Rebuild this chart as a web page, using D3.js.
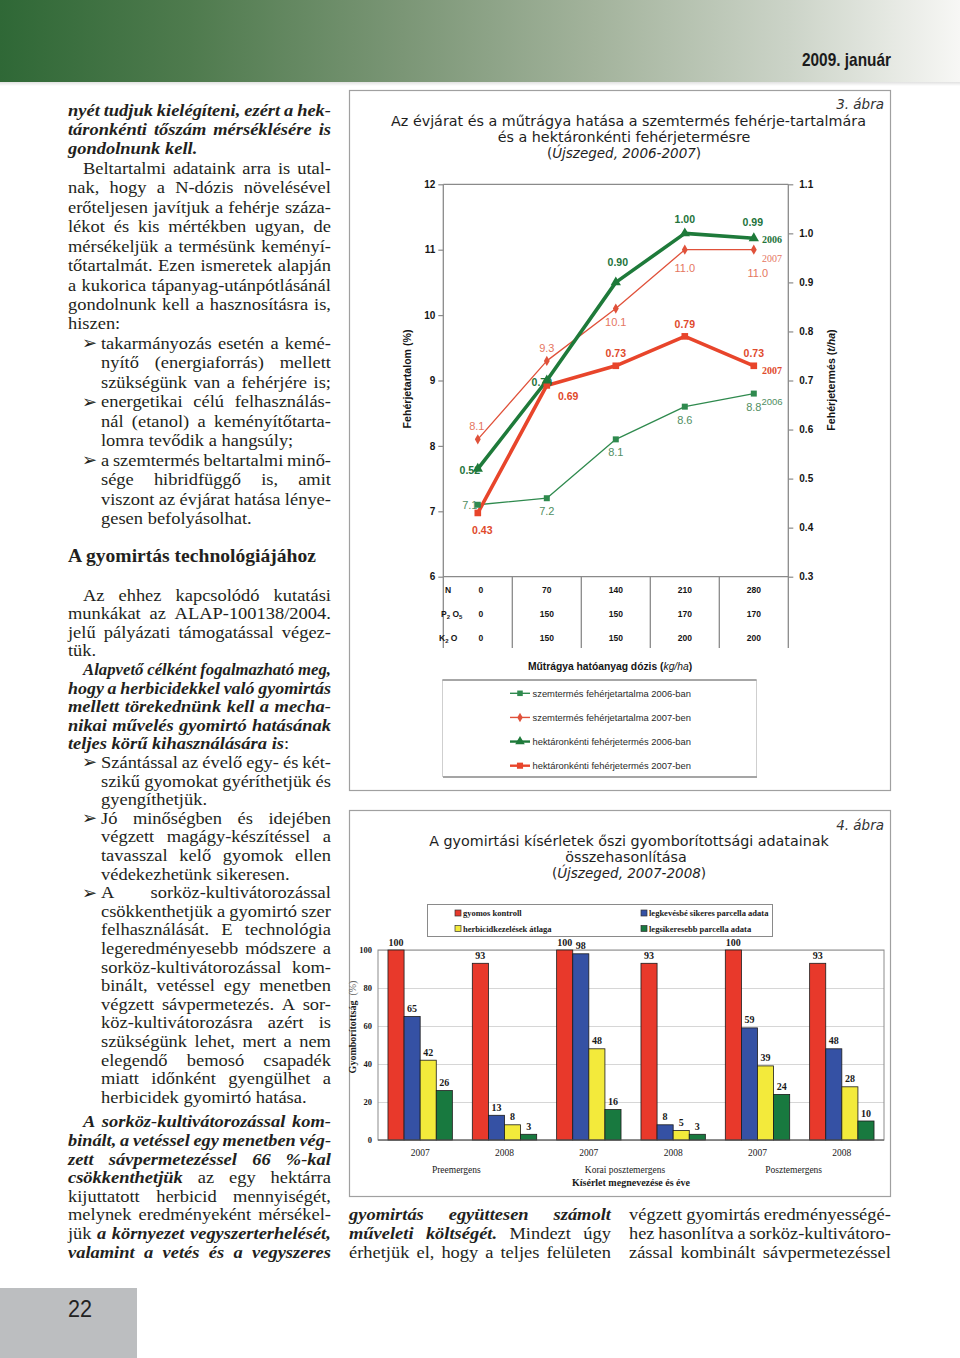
<!DOCTYPE html>
<html><head><meta charset="utf-8">
<script src="https://cdn.jsdelivr.net/npm/d3@7/dist/d3.min.js"></script>
<style>html,body{margin:0;padding:0;background:#fff}svg{display:block}</style>
</head><body>
<svg id="page" width="960" height="1358" xmlns="http://www.w3.org/2000/svg"></svg>
<script>
// ================= DATA =================
// 3. ábra
const doseCategories = ["0","70","140","210","280"];
const doseN    = ["0","70","140","210","280"];
const doseP2O5 = ["0","150","150","170","170"];
const doseK2O  = ["0","150","150","200","200"];
const protein2006 = [7.1, 7.2, 8.1, 8.6, 8.8];
const protein2007 = [8.1, 9.3, 10.1, 11.0, 11.0];
const proteinYield2006 = [0.52, 0.70, 0.90, 1.00, 0.99];
const proteinYield2007 = [0.43, 0.69, 0.73, 0.79, 0.73];
const proteinTicks = [6, 7, 8, 9, 10, 11, 12];
const yieldTicks = [0.3, 0.4, 0.5, 0.6, 0.7, 0.8, 0.9, 1.0, 1.1];
const fig3Legend = ["szemtermés fehérjetartalma 2006-ban", "szemtermés fehérjetartalma 2007-ben",
                    "hektáronkénti fehérjetermés 2006-ban", "hektáronkénti fehérjetermés 2007-ben"];
// 4. ábra
const trialNames = ["Preemergens", "Korai posztemergens", "Posztemergens"];
const trialYears = ["2007", "2008", "2007", "2008", "2007", "2008"];
const weedyControl    = [100, 93, 100, 93, 100, 93];
const leastSuccessful = [65, 13, 98, 8, 59, 48];
const herbicideMean   = [42, 8, 48, 5, 39, 28];
const mostSuccessful  = [26, 3, 16, 3, 24, 10];
const coverTicks = [0, 20, 40, 60, 80, 100];
const fig4Legend = ["gyomos kontroll", "legkevésbé sikeres parcella adata", "herbicidkezelések átlaga", "legsikeresebb parcella adata"];

// ================= PAGE TEXT =================
const colA = [
 "*nyét tudjuk kielégíteni, ezért a hek-*",
 "*táronkénti tőszám mérséklésére is*",
 "*gondolnunk kell.*|",
 "^Beltartalmi adataink arra is utal-",
 "nak, hogy a N-dózis növelésével",
 "erőteljesen javítjuk a fehérje száza-",
 "lékot és kis mértékben ugyan, de",
 "mérsékeljük a termésünk keményí-",
 "tőtartalmát. Ezen ismeretek alapján",
 "a kukorica tápanyag-utánpótlásánál",
 "gondolnunk kell a hasznosításra is,",
 "hiszen:|",
 ">takarmányozás esetén a kemé-",
 "~nyítő (energiaforrás) mellett",
 "~szükségünk van a fehérjére is;",
 ">energetikai célú felhasználás-",
 "~nál (etanol) a keményítőtarta-",
 "~lomra tevődik a hangsúly;|",
 ">a szemtermés beltartalmi minő-",
 "~sége hibridfüggő is, amit",
 "~viszont az évjárat hatása lénye-",
 "~gesen befolyásolhat.|"
];
const colB = [
 "^Az ehhez kapcsolódó kutatási",
 "munkákat az ALAP-100138/2004.",
 "jelű pályázati támogatással végez-",
 "tük.|",
 "^*Alapvető célként fogalmazható meg,*",
 "*hogy a herbicidekkel való gyomirtás*",
 "*mellett törekednünk kell a mecha-*",
 "*nikai művelés gyomirtó hatásának*",
 "*teljes körű kihasználására is*:|",
 ">Szántással az évelő egy- és két-",
 "~szikű gyomokat gyéríthetjük és",
 "~gyengíthetjük.|",
 ">Jó minőségben és idejében",
 "~végzett magágy-készítéssel a",
 "~tavasszal kelő gyomok ellen",
 "~védekezhetünk sikeresen.|",
 ">A sorköz-kultivátorozással",
 "~csökkenthetjük a gyomirtó szer",
 "~felhasználását. E technológia",
 "~legeredményesebb módszere a",
 "~sorköz-kultivátorozással kom-",
 "~binált, vetéssel egy menetben",
 "~végzett sávpermetezés. A sor-",
 "~köz-kultivátorozásra azért is",
 "~szükségünk lehet, mert a nem",
 "~elegendő bemosó csapadék",
 "~miatt időnként gyengülhet a",
 "~herbicidek gyomirtó hatása.|",
 "#gap",
 "^*A sorköz-kultivátorozással kom-*",
 "*binált, a vetéssel egy menetben vég-*",
 "*zett sávpermetezéssel 66 %-kal*",
 "*csökkenthetjük* az egy hektárra",
 "kijuttatott herbicid mennyiségét,",
 "melynek eredményeként mérsékel-",
 "jük *a környezet vegyszerterhelését,*",
 "*valamint a vetés és a vegyszeres*"
];
const colC = [
 "*gyomirtás együttesen számolt*",
 "*műveleti költségét.* Mindezt úgy",
 "érhetjük el, hogy a teljes felületen"
];
const colD = [
 "végzett gyomirtás eredményességé-",
 "hez hasonlítva a sorköz-kultivátoro-",
 "zással kombinált sávpermetezéssel"
];

// ================= DRAWING =================
const svg = d3.select('#page');
const SERIF = "'Liberation Serif','Times New Roman',Times,serif";
const SANS = "'Liberation Sans',Arial,Helvetica,sans-serif";
const NARROW = "'Liberation Sans Narrow','Arial Narrow','Liberation Sans',sans-serif";
const VERD = "'DejaVu Sans',Verdana,sans-serif";
const INK = '#231f20';
const FS = 17.5;
const STRETCH = 1.055;

// ---- header ----
const defs = svg.append('defs');
const hg = defs.append('linearGradient').attr('id','hdr').attr('x1',0).attr('x2',1).attr('y1',0).attr('y2',0);
[[0,'#2f6836'],[0.2,'#4f7b4e'],[0.42,'#7b9676'],[0.62,'#a3b39c'],[0.82,'#cbd3c7'],[0.93,'#e6e9e3'],[1,'#f7f7f5']]
  .forEach(([o,c]) => hg.append('stop').attr('offset',o).attr('stop-color',c));
svg.append('rect').attr('x',0).attr('y',0).attr('width',960).attr('height',82).attr('fill','url(#hdr)');
const sg = defs.append('linearGradient').attr('id','shd').attr('x1',0).attr('x2',0).attr('y1',0).attr('y2',1);
sg.append('stop').attr('offset',0).attr('stop-color','#000').attr('stop-opacity',0.12);
sg.append('stop').attr('offset',1).attr('stop-color','#000').attr('stop-opacity',0);
svg.append('rect').attr('x',0).attr('y',82).attr('width',960).attr('height',4).attr('fill','url(#shd)');
svg.append('text').attr('x',802).attr('y',66)
  .attr('font-family',NARROW).attr('font-weight','bold').attr('font-size',19).attr('fill','#1b1b1b')
  .attr('textLength',89).attr('lengthAdjust','spacingAndGlyphs')
  .text('2009. január');

// ---- page number ----
svg.append('rect').attr('x',0).attr('y',1288).attr('width',137).attr('height',70).attr('fill','#bcbec0');
svg.append('text').attr('x',68).attr('y',1317).attr('font-family',NARROW).attr('font-size',23).attr('fill','#222')
  .attr('textLength',24).attr('lengthAdjust','spacingAndGlyphs').text('22');

// ---- body text ----
function parseWords(str){
  let bi=false; const words=[]; let cur=[]; let buf='';
  const flush=()=>{ if(buf){cur.push({t:buf,bi}); buf='';} };
  for(const ch of str){
    if(ch==='*'){flush(); bi=!bi; continue;}
    if(ch===' '){flush(); if(cur.length){words.push(cur); cur=[];} continue;}
    buf+=ch;
  }
  flush(); if(cur.length) words.push(cur);
  return words;
}
function setLine(g, str, x0, x1, y, justify, fs){
  const words = parseWords(str);
  const nodes = words.map(w=>{
    const t = g.append('text').attr('x',0).attr('y',0).attr('font-family',SERIF).attr('font-size',fs).attr('fill',INK);
    w.forEach(s=>{
      const sp = t.append('tspan').text(s.t);
      if(s.bi){ sp.attr('font-weight','bold').attr('font-style','italic'); }
    });
    return t;
  });
  const wid = nodes.map(n=>n.node().getComputedTextLength());
  const tot = d3.sum(wid);
  const n = nodes.length, sp = fs*0.25, avail = x1-x0;
  let sc = STRETCH, gap = sp*sc;
  const minGap = sp*0.85;
  if(justify && n>1) gap = (avail - tot*sc)/(n-1);
  const need = tot*sc + gap*(n-1);
  if((n>1 && gap < minGap) || need > avail){
    gap = n>1 ? Math.max(minGap, Math.min(gap, sp)) : 0;
    if(justify && n>1) gap = minGap;
    sc = (avail - gap*(n-1))/tot;
    if(!justify) sc = Math.min(sc, STRETCH);
  }
  let x = x0;
  nodes.forEach((nd,i)=>{ nd.attr('transform',`translate(${x.toFixed(2)},${y.toFixed(2)}) scale(${sc.toFixed(4)},1)`); x += wid[i]*sc + gap; });
}
function setColumn(lines, x0, x1, y0, step, gapH){
  const g = svg.append('g');
  let y = y0;
  lines.forEach(raw=>{
    if(raw==='#gap'){ y += gapH; return; }
    let s = raw, lx = x0, justify = true;
    if(s.endsWith('|')){ justify=false; s=s.slice(0,-1); }
    if(s[0]==='^'){ lx = x0+15; s=s.slice(1); }
    else if(s[0]==='>'){
      g.append('text').attr('x',x0+14).attr('y',y+0.5).attr('font-family',VERD).attr('font-size',18).attr('fill',INK).text('➢');
      lx = x0+33; s=s.slice(1);
    }
    else if(s[0]==='~'){ lx = x0+33; s=s.slice(1); }
    setLine(g, s, lx, x1, y, justify, FS);
    y += step;
  });
}
setColumn(colA, 68, 331, 115.5, 19.45, 0);
svg.append('text').attr('x',68).attr('y',562).attr('font-family',SERIF).attr('font-weight','bold')
  .attr('font-size',19).attr('fill',INK).attr('textLength',248).attr('lengthAdjust','spacingAndGlyphs')
  .text('A gyomirtás technológiájához');
setColumn(colB, 68, 331, 600.5, 18.6, 6);
setColumn(colC, 349, 611, 1219.5, 19, 0);
setColumn(colD, 629, 891, 1219.5, 19, 0);

// ================= 3. ÁBRA =================
const f3 = svg.append('g');
f3.append('rect').attr('x',349.5).attr('y',90.5).attr('width',541).attr('height',700)
  .attr('fill','none').attr('stroke','#a0a0a0').attr('stroke-width',1.2);
f3.append('text').attr('x',884).attr('y',109).attr('text-anchor','end').attr('font-family',VERD)
  .attr('font-style','italic').attr('font-size',13.5).attr('fill','#333').text('3. ábra');
f3.append('text').attr('x',628.5).attr('y',126).attr('text-anchor','middle').attr('font-family',VERD)
  .attr('font-size',14.3).attr('fill','#1e1e1e').text('Az évjárat és a műtrágya hatása a szemtermés fehérje-tartalmára');
f3.append('text').attr('x',624).attr('y',142).attr('text-anchor','middle').attr('font-family',VERD)
  .attr('font-size',14.3).attr('fill','#1e1e1e').text('és a hektáronkénti fehérjetermésre');
const st3 = f3.append('text').attr('x',624).attr('y',158).attr('text-anchor','middle').attr('font-family',VERD)
  .attr('font-size',13.5).attr('fill','#1e1e1e');
st3.append('tspan').text('(');
st3.append('tspan').attr('font-style','italic').text('Újszeged, 2006-2007');
st3.append('tspan').text(')');

const x3 = d3.scaleBand().domain(doseCategories).range([443.3, 788.3]);
const yP = d3.scaleLinear().domain([6,12]).range([576.7,184.3]);
const yY = d3.scaleLinear().domain([0.3,1.1]).range([576.7,184.3]);
const cx3 = i => x3(doseCategories[i]) + x3.bandwidth()/2;
const GR = '#8a8a8a';
const TABLE_BOTTOM = 648;

// frame lines
f3.append('line').attr('x1',443.3).attr('x2',788.3).attr('y1',yP(12)).attr('y2',yP(12)).attr('stroke',GR).attr('stroke-width',1.3);
f3.append('line').attr('x1',443.3).attr('x2',788.3).attr('y1',yP(6)).attr('y2',yP(6)).attr('stroke',GR).attr('stroke-width',1.3);
f3.append('line').attr('x1',443.3).attr('x2',443.3).attr('y1',yP(12)).attr('y2',TABLE_BOTTOM).attr('stroke',GR).attr('stroke-width',1.3);
f3.append('line').attr('x1',788.3).attr('x2',788.3).attr('y1',yP(12)).attr('y2',TABLE_BOTTOM).attr('stroke',GR).attr('stroke-width',1.3);
doseCategories.slice(1).forEach(d=>{
  f3.append('line').attr('x1',x3(d)).attr('x2',x3(d)).attr('y1',yP(6)).attr('y2',TABLE_BOTTOM).attr('stroke',GR).attr('stroke-width',1.3);
});

// axes
const gL = f3.append('g').attr('transform','translate(443.3,0)')
  .call(d3.axisLeft(yP).tickValues(proteinTicks).tickSize(5).tickPadding(3).tickFormat(d3.format('d')));
const gR = f3.append('g').attr('transform','translate(788.3,0)')
  .call(d3.axisRight(yY).tickValues(yieldTicks).tickSize(5).tickPadding(6).tickFormat(d3.format('.1f')));
[gL,gR].forEach(g=>{
  g.select('.domain').remove();
  g.selectAll('.tick line').attr('stroke',GR).attr('stroke-width',1.2);
  g.selectAll('.tick text').attr('font-family',SANS).attr('font-weight','bold').attr('font-size',10).attr('fill','#151515');
});
f3.append('text').attr('transform','translate(411,379) rotate(-90)').attr('text-anchor','middle')
  .attr('font-family',SANS).attr('font-weight','bold').attr('font-size',10.6).attr('fill','#151515')
  .text('Fehérjetartalom (%)');
const yr = f3.append('text').attr('transform','translate(835,380) rotate(-90)').attr('text-anchor','middle')
  .attr('font-family',SANS).attr('font-weight','bold').attr('font-size',10.6).attr('fill','#151515');
yr.append('tspan').text('Fehérjetermés (');
yr.append('tspan').attr('font-style','italic').text('t/ha');
yr.append('tspan').text(')');

// dose table
const rowsY = [593, 617, 641];
const tableRows = [doseN, doseP2O5, doseK2O];
tableRows.forEach((row,r)=>{
  row.forEach((v,i)=>{
    f3.append('text').attr('x',cx3(i)+(i===0?3:0)).attr('y',rowsY[r]).attr('text-anchor','middle')
      .attr('font-family',SANS).attr('font-weight','bold').attr('font-size',8.5).attr('fill','#151515').text(v);
  });
});
f3.append('text').attr('x',445).attr('y',rowsY[0]).attr('font-family',SANS).attr('font-weight','bold').attr('font-size',8.5).attr('fill','#151515').text('N');
const tP = f3.append('text').attr('x',441).attr('y',rowsY[1]).attr('font-family',SANS).attr('font-weight','bold').attr('font-size',8.5).attr('fill','#151515');
tP.append('tspan').text('P');
tP.append('tspan').attr('font-size',6).attr('dy',2).text('2');
tP.append('tspan').attr('dy',-2).text(' O');
tP.append('tspan').attr('font-size',6).attr('dy',2).text('5');
const tK = f3.append('text').attr('x',439).attr('y',rowsY[2]).attr('font-family',SANS).attr('font-weight','bold').attr('font-size',8.5).attr('fill','#151515');
tK.append('tspan').text('K');
tK.append('tspan').attr('font-size',6).attr('dy',2).text('2');
tK.append('tspan').attr('dy',-2).text(' O');

const xt = f3.append('text').attr('x',610).attr('y',669.5).attr('text-anchor','middle')
  .attr('font-family',SANS).attr('font-weight','bold').attr('font-size',10.3).attr('fill','#151515');
xt.append('tspan').text('Műtrágya hatóanyag dózis (');
xt.append('tspan').attr('font-style','italic').attr('font-weight','normal').text('kg/ha');
xt.append('tspan').text(')');

// series
const series3 = [
  {vals:protein2006, y:yP, line:'#2f8a4e', lw:1.3, sym:d3.symbolSquare, size:36, lab:'#4f8e62', bold:false, fmt:d3.format('.1f'),
   off:[[-8,4.6],[0,17],[0,17],[0,17],[0,17]], tag:{t:'2006', x:761.5, y:405, bold:false, font:SANS, fs:9.5}},
  {vals:protein2007, y:yP, line:'#e0513a', lw:1.3, sym:d3.symbolDiamond, size:30, lab:'#e5765f', bold:false, fmt:d3.format('.1f'),
   off:[[-1,-9],[0,-9],[0,17.8],[0,22.3],[4,27]], tag:{t:'2007', x:762, y:261.5, bold:false, font:SERIF, fs:10}},
  {vals:proteinYield2007, y:yY, line:'#e8452b', lw:3.6, sym:d3.symbolSquare, size:44, lab:'#e04a2c', bold:true, fmt:d3.format('.2f'),
   off:[[4.5,21.5],[21.3,14.6],[0,-9],[0,-8.7],[0,-9]], tag:{t:'2007', x:762, y:373.5, bold:true, font:SERIF, fs:10}},
  {vals:proteinYield2006, y:yY, line:'#1e7a3a', lw:3.6, sym:d3.symbolTriangle, size:46, lab:'#23733b', bold:true, fmt:d3.format('.2f'),
   off:[[-8,5],[-5,5.9],[2,-16],[0,-10.7],[-1,-12.3]], tag:{t:'2006', x:762, y:242.5, bold:true, font:SERIF, fs:10}}
];
const lineGen = (s) => d3.line().x((d,i)=>cx3(i)).y(d=>s.y(d));
series3.forEach(s=>{
  f3.append('path').datum(s.vals).attr('d',lineGen(s)).attr('fill','none').attr('stroke',s.line)
    .attr('stroke-width',s.lw).attr('stroke-linejoin','round');
});
series3.forEach(s=>{
  s.vals.forEach((v,i)=>{
    f3.append('text').attr('x',cx3(i)+s.off[i][0]).attr('y',s.y(v)+s.off[i][1]).attr('text-anchor','middle')
      .attr('font-family',SANS).attr('font-weight',s.bold?'bold':'normal').attr('font-size',s.bold?10.5:11)
      .attr('fill',s.lab).text(s.fmt(v));
  });
  f3.append('text').attr('x',s.tag.x).attr('y',s.tag.y).attr('font-family',s.tag.font)
    .attr('font-weight',s.tag.bold?'bold':'normal').attr('font-size',s.tag.fs).attr('fill',s.lab).text(s.tag.t);
});
series3.forEach(s=>{
  s.vals.forEach((v,i)=>{
    f3.append('path').attr('d',d3.symbol().type(s.sym).size(s.size)())
      .attr('transform',`translate(${cx3(i)},${s.y(v)})`).attr('fill',s.line);
  });
});

// legend 3
f3.append('rect').attr('x',442.5).attr('y',680).attr('width',314).attr('height',96.5)
  .attr('fill','#fff').attr('stroke','#cfcfcf').attr('stroke-width',1);
f3.append('line').attr('x1',442.5).attr('x2',756.5).attr('y1',680).attr('y2',680).attr('stroke','#666').attr('stroke-width',1);
f3.append('line').attr('x1',443).attr('x2',757).attr('y1',777).attr('y2',777).attr('stroke','#a5a5a5').attr('stroke-width',2);
const legOrder = [0,1,3,2];
const legY = d3.scalePoint().domain(d3.range(4)).range([693.3,765.7]);
legOrder.forEach((si,k)=>{
  const s = series3[si];
  const yy = legY(k);
  f3.append('line').attr('x1',510).attr('x2',530).attr('y1',yy).attr('y2',yy).attr('stroke',s.line).attr('stroke-width',s.lw>2?2.4:1.4);
  f3.append('path').attr('d',d3.symbol().type(s.sym).size(s.size*0.85)()).attr('transform',`translate(520,${yy})`).attr('fill',s.line);
  f3.append('text').attr('x',532.5).attr('y',yy+3.3).attr('font-family',SANS).attr('font-size',9.4).attr('fill','#2a2a2a').text(fig3Legend[k]);
});

// ================= 4. ÁBRA =================
const f4 = svg.append('g');
f4.append('rect').attr('x',349.5).attr('y',810.5).attr('width',541).attr('height',386)
  .attr('fill','none').attr('stroke','#a0a0a0').attr('stroke-width',1.2);
f4.append('text').attr('x',884).attr('y',830).attr('text-anchor','end').attr('font-family',VERD)
  .attr('font-style','italic').attr('font-size',13.5).attr('fill','#333').text('4. ábra');
f4.append('text').attr('x',629).attr('y',846).attr('text-anchor','middle').attr('font-family',VERD)
  .attr('font-size',14.3).attr('fill','#1e1e1e').text('A gyomirtási kísérletek őszi gyomborítottsági adatainak');
f4.append('text').attr('x',626).attr('y',862).attr('text-anchor','middle').attr('font-family',VERD)
  .attr('font-size',14.3).attr('fill','#1e1e1e').text('összehasonlítása');
const st4 = f4.append('text').attr('x',629).attr('y',878).attr('text-anchor','middle').attr('font-family',VERD)
  .attr('font-size',13.5).attr('fill','#1e1e1e');
st4.append('tspan').text('(');
st4.append('tspan').attr('font-style','italic').text('Újszeged, 2007-2008');
st4.append('tspan').text(')');

const X0 = 378, X1 = 884;
const x4 = d3.scaleBand().domain(d3.range(trialYears.length)).range([X0, X1]);
const barSeries = [
  {vals:weedyControl, color:'#e8392b'},
  {vals:leastSuccessful, color:'#3551a4'},
  {vals:herbicideMean, color:'#f3ea3b'},
  {vals:mostSuccessful, color:'#18793f'}
];
const xi = d3.scaleBand().domain(d3.range(barSeries.length)).range([0, x4.bandwidth()]).paddingInner(0).paddingOuter(0.62);
const y4 = d3.scaleLinear().domain([0,100]).range([1140,950]);

// grid + axis
const ga = f4.append('g').attr('transform',`translate(${X0},0)`)
  .call(d3.axisLeft(y4).tickValues(coverTicks).tickSize(-(X1-X0)).tickPadding(6).tickFormat(d3.format('d')));
ga.select('.domain').remove();
ga.selectAll('.tick line').attr('stroke','#d6d6d6').attr('stroke-width',1);
ga.selectAll('.tick text').attr('font-family',SERIF).attr('font-weight','bold').attr('font-size',8.5).attr('fill','#1a1a1a');
f4.append('rect').attr('x',X0).attr('y',y4(100)).attr('width',X1-X0).attr('height',y4(0)-y4(100))
  .attr('fill','none').attr('stroke','#8c8c8c').attr('stroke-width',1);

barSeries.forEach((s,si)=>{
  s.vals.forEach((v,i)=>{
    const bx = x4(i) + xi(si);
    f4.append('rect').attr('x',bx).attr('y',y4(v)).attr('width',xi.bandwidth()).attr('height',y4(0)-y4(v))
      .attr('fill',s.color).attr('stroke','#1c1c1c').attr('stroke-width',0.8);
    f4.append('text').attr('x',bx+xi.bandwidth()/2).attr('y',y4(v)-4.5).attr('text-anchor','middle')
      .attr('font-family',SERIF).attr('font-weight','bold').attr('font-size',10).attr('fill','#1a1a1a').text(v);
  });
});
f4.append('line').attr('x1',X0).attr('x2',X1).attr('y1',y4(0)).attr('y2',y4(0)).attr('stroke','#555').attr('stroke-width',1);

trialYears.forEach((yv,i)=>{
  f4.append('text').attr('x',x4(i)+x4.bandwidth()/2).attr('y',1156).attr('text-anchor','middle')
    .attr('font-family',SERIF).attr('font-size',9.5).attr('fill','#1a1a1a').text(yv);
});
trialNames.forEach((t,k)=>{
  const c = (x4(2*k) + x4(2*k+1) + x4.bandwidth())/2 - 6;
  f4.append('text').attr('x',c).attr('y',1173).attr('text-anchor','middle')
    .attr('font-family',SERIF).attr('font-size',9.5).attr('fill','#1a1a1a').text(t);
});
f4.append('text').attr('x',631).attr('y',1186).attr('text-anchor','middle')
  .attr('font-family',SERIF).attr('font-weight','bold').attr('font-size',10).attr('fill','#1a1a1a')
  .text('Kísérlet megnevezése és éve');
const yt4 = f4.append('text').attr('transform','translate(355.5,1027) rotate(-90)').attr('text-anchor','middle')
  .attr('font-family',SERIF).attr('font-size',10).attr('fill','#1a1a1a');
yt4.append('tspan').attr('font-weight','bold').text('Gyomborítottság');
yt4.append('tspan').attr('fill','#666').attr('dx',5).text('(%)');

// legend 4
f4.append('rect').attr('x',427.5).attr('y',904.5).attr('width',345).attr('height',32)
  .attr('fill','#fff').attr('stroke','#8a8a8a').attr('stroke-width',1);
const legColors = ['#e8392b','#3551a4','#f3ea3b','#18793f'];
const legX = [455, 641];
const legRows = [913, 928.5];
fig4Legend.forEach((t,k)=>{
  const col = k%2, row = Math.floor(k/2);
  f4.append('rect').attr('x',legX[col]).attr('y',legRows[row]-3).attr('width',6).attr('height',6)
    .attr('fill',legColors[k]).attr('stroke','#333').attr('stroke-width',0.7);
  f4.append('text').attr('x',legX[col]+8).attr('y',legRows[row]+3).attr('font-family',SERIF)
    .attr('font-weight','bold').attr('font-size',8.5).attr('fill','#1a1a1a').text(t);
});
</script>
</body></html>
